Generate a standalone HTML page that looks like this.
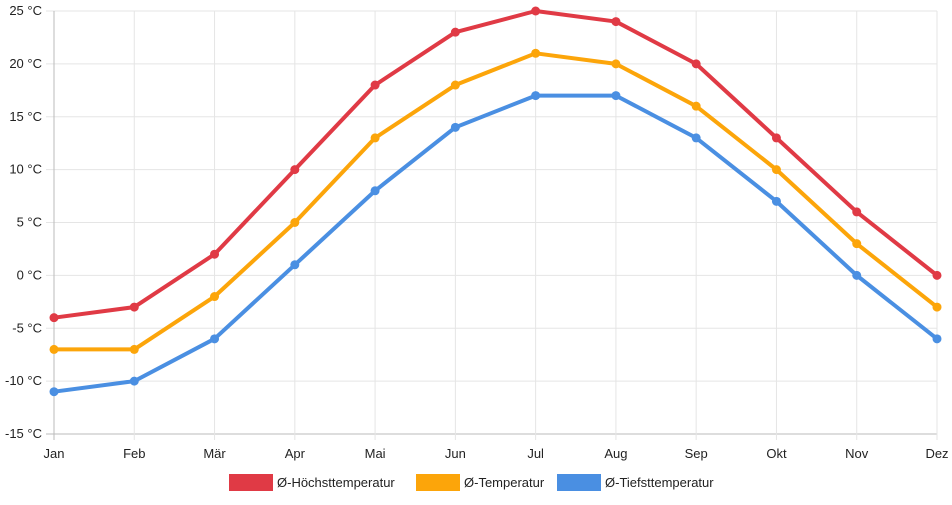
<!DOCTYPE html>
<html><head><meta charset="utf-8"><style>
body{margin:0;background:#fff;font-family:"Liberation Sans",sans-serif;}
svg text{font-family:"Liberation Sans",sans-serif;font-size:13px;fill:#222;}
</style></head><body>
<svg id="chart" width="952" height="500" xmlns="http://www.w3.org/2000/svg">
<g id="grid"></g>
<g id="axes"></g>
<g id="series"></g>
<g id="legend"></g>
</svg>
<script>
const months=["Jan","Feb","Mär","Apr","Mai","Jun","Jul","Aug","Sep","Okt","Nov","Dez"];
const highTemps=[-4,-3,2,10,18,23,25,24,20,13,6,0];
const meanTemps=[-7,-7,-2,5,13,18,21,20,16,10,3,-3];
const lowTemps=[-11,-10,-6,1,8,14,17,17,13,7,0,-6];
const yTicks=[25,20,15,10,5,0,-5,-10,-15];
const seriesNames=["Ø-Höchsttemperatur","Ø-Temperatur","Ø-Tiefsttemperatur"];
const NS="http://www.w3.org/2000/svg";
const x0=54,x1=937,yTop=11,yBot=434,vMax=25,vMin=-15;
function xs(i){return x0+(x1-x0)*i/(months.length-1);}
function ys(v){return yTop+(vMax-v)*(yBot-yTop)/(vMax-vMin);}
function mk(tag,attrs,parent){const e=document.createElementNS(NS,tag);for(const k in attrs)e.setAttribute(k,attrs[k]);parent.appendChild(e);return e;}
const grid=document.getElementById('grid'),axes=document.getElementById('axes'),ser=document.getElementById('series'),leg=document.getElementById('legend');
yTicks.forEach(t=>{
 const l=mk('line',{x1:x0-8,x2:x1,y1:ys(t),y2:ys(t),stroke:t===vMin?'#bbb':'#e5e5e5','stroke-width':1},grid);
 
 
 const tx=mk('text',{x:42,y:ys(t)+4,'text-anchor':'end'},axes);
 tx.textContent=t+' °C';
 
 
});
months.forEach((m,i)=>{
 const l=mk('line',{x1:xs(i),x2:xs(i),y1:yTop,y2:yBot+6,stroke:i===0?'#bbb':'#e5e5e5','stroke-width':1},grid);
 
 
 const tx=mk('text',{x:xs(i),y:458,'text-anchor':'middle'},axes);
 tx.textContent=m;
 
 
});
const allSeries=[highTemps,meanTemps,lowTemps];
const colors=["#e03a45","#fca50a","#4a8fe2"];
allSeries.forEach((d,s)=>{
 const p=mk('polyline',{points:d.map((v,i)=>xs(i)+','+ys(v)).join(' '),fill:'none',stroke:colors[s],'stroke-width':4,'stroke-linejoin':'round'},ser);
 
 
 d.forEach((v,i)=>{
  const c=mk('circle',{cx:xs(i),cy:ys(v),r:4.5,fill:colors[s]},ser);
  
  
 });
});
const legX=[229,416,557];
seriesNames.forEach((n,s)=>{
 const r=mk('rect',{x:legX[s],y:474,width:44,height:17,fill:colors[s]},leg);
 
 
 const tx=mk('text',{x:legX[s]+48,y:487},leg);
 tx.textContent=n;
 
 
});
</script>
</body></html>
